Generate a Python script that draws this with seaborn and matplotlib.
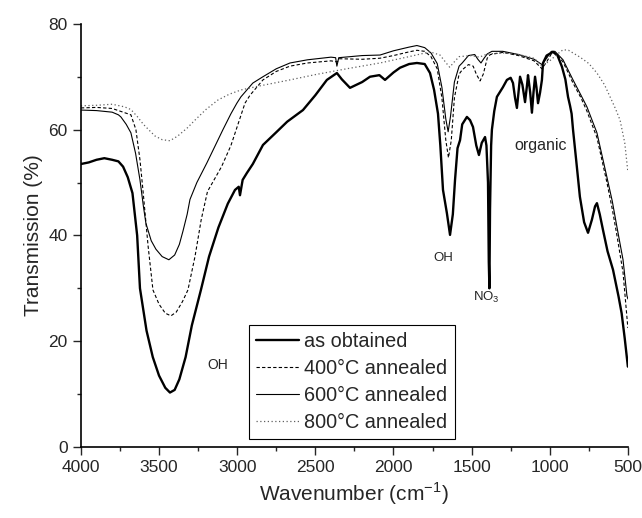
import matplotlib
matplotlib.use("Agg")
import matplotlib.pyplot as plt
from matplotlib.ticker import MultipleLocator
import seaborn as sns
import pandas as pd

# as obtained
wn_asobt = [4000, 3950, 3900, 3850, 3800, 3760, 3730, 3700, 3670, 3640, 3622, 3580,
            3540, 3500, 3460, 3430, 3400, 3370, 3330, 3290, 3232, 3180, 3120, 3060,
            3014, 2990, 2982, 2965, 2938, 2900, 2835, 2750, 2680, 2579, 2500, 2426,
            2362, 2330, 2278, 2200, 2150, 2090, 2054, 2000, 1958, 1900, 1850, 1800,
            1766, 1740, 1715, 1700, 1683, 1658, 1638, 1620, 1606, 1590, 1574, 1560,
            1530, 1510, 1491, 1470, 1453, 1435, 1414, 1405, 1395, 1390, 1386, 1382,
            1375, 1370, 1355, 1338, 1300, 1274, 1250, 1235, 1222, 1210, 1200, 1190,
            1175, 1158, 1145, 1139, 1125, 1114, 1104, 1094, 1085, 1075, 1062, 1050,
            1043, 1020, 979, 950, 922, 900, 883, 870, 860, 851, 830, 807, 780, 755,
            730, 710, 698, 680, 659, 630, 595, 560, 540, 520, 500]
tr_asobt = [53.5, 53.8, 54.3, 54.6, 54.3, 54.0, 53.0, 51.0, 48.0, 40.0, 30.0, 22.0,
            17.0, 13.5, 11.2, 10.3, 10.8, 12.8, 17.0, 23.0, 29.7, 36.0, 41.5, 46.0,
            48.6, 49.2, 47.6, 50.5, 51.8, 53.5, 57.1, 59.5, 61.5, 63.7, 66.5, 69.4,
            70.7, 69.5, 67.9, 69.0, 70.0, 70.3, 69.4, 70.8, 71.7, 72.4, 72.6, 72.4,
            70.7, 67.5, 63.0, 57.0, 48.6, 44.2, 40.1, 44.0, 50.5, 56.5, 58.0, 61.0,
            62.4, 61.8, 60.5, 57.0, 55.2, 57.5, 58.6, 57.0, 50.0, 35.0, 30.0, 45.0,
            57.0, 60.0, 63.5, 66.2, 68.0, 69.4, 69.8, 68.8, 66.0, 64.1, 67.0, 70.0,
            68.5, 65.2, 68.5, 70.3, 67.0, 63.2, 67.0, 70.0, 68.0, 65.0, 67.0, 69.4,
            72.6, 74.0, 74.7, 74.0, 71.9, 69.5, 66.2, 64.5, 63.0, 60.0, 54.0, 47.3,
            42.5, 40.5, 43.0, 45.5, 46.1, 44.0, 41.0, 37.0, 33.5, 28.5, 25.3, 20.5,
            15.2]

# 400 C annealed
wn_400 = [4000, 3900, 3800, 3760, 3720, 3680, 3648, 3622, 3603, 3570, 3539, 3500,
          3460, 3424, 3390, 3350, 3315, 3270, 3230, 3190, 3100, 3040, 2950, 2918,
          2835, 2750, 2662, 2550, 2400, 2360, 2345, 2200, 2086, 2000, 1900, 1850,
          1800, 1760, 1720, 1690, 1665, 1648, 1630, 1610, 1580, 1560, 1520, 1490,
          1470, 1446, 1425, 1400, 1380, 1300, 1200, 1100, 1050, 1020, 990, 975,
          950, 915, 851, 800, 762, 698, 634, 600, 570, 531, 500]
tr_400 = [64.1, 64.2, 64.0, 63.6, 63.2, 62.8, 60.0, 54.3, 48.6, 38.0, 29.7, 27.0,
          25.3, 24.8, 25.5, 27.5, 29.7, 36.0, 43.0, 48.3, 53.0, 57.0, 65.0, 66.5,
          69.4, 71.0, 72.0, 72.6, 73.0, 72.8, 73.4, 73.3, 73.5, 74.0, 74.7, 75.0,
          74.8, 73.8, 71.5, 66.0, 58.0, 54.7, 58.0, 66.0, 70.5, 71.3, 72.3, 72.0,
          70.5, 69.2, 70.5, 73.5, 74.2, 74.6, 74.0, 73.0, 71.5, 72.8, 74.3, 74.6,
          74.0, 72.8, 68.8, 66.0, 63.5, 58.5, 50.0, 45.0, 40.0, 33.0, 22.5]

# 600 C annealed
wn_600 = [4000, 3900, 3800, 3760, 3744, 3710, 3680, 3650, 3622, 3600, 3584, 3550,
          3520, 3480, 3437, 3400, 3370, 3347, 3320, 3302, 3258, 3194, 3140, 3091,
          3040, 3002, 2976, 2900, 2835, 2750, 2662, 2550, 2400, 2370, 2362, 2350,
          2200, 2086, 2000, 1900, 1850, 1800, 1760, 1720, 1690, 1665, 1650, 1635,
          1610, 1580, 1560, 1520, 1480, 1460, 1440, 1420, 1400, 1370, 1300, 1200,
          1100, 1050, 1020, 990, 967, 915, 851, 800, 762, 698, 634, 600, 570, 531,
          506, 500]
tr_600 = [63.7, 63.6, 63.3, 62.8, 62.4, 61.0, 59.4, 55.5, 50.5, 45.5, 42.3, 39.0,
          37.4, 36.0, 35.4, 36.3, 38.3, 40.8, 44.0, 46.8, 50.0, 53.7, 57.0, 60.0,
          63.0, 65.0, 66.2, 68.8, 70.0, 71.5, 72.6, 73.2, 73.7, 73.6, 72.0, 73.6,
          74.0, 74.1, 74.9, 75.6, 75.9, 75.5, 74.5, 72.5, 68.0, 62.0, 59.6, 62.5,
          69.0, 72.0, 72.6, 74.0, 74.2, 73.3, 72.6, 73.5, 74.3, 74.8, 74.8, 74.2,
          73.3, 72.3, 73.5, 74.8, 74.8, 73.2, 69.4, 66.5, 64.3, 59.4, 51.0, 46.5,
          41.6, 35.4, 28.6, 28.0]

# 800 C annealed
wn_800 = [4000, 3900, 3800, 3720, 3680, 3640, 3600, 3560, 3526, 3480, 3430, 3380,
          3320, 3270, 3200, 3123, 3050, 2976, 2850, 2662, 2500, 2300, 2086, 1900,
          1766, 1702, 1660, 1640, 1620, 1580, 1500, 1450, 1400, 1300, 1200, 1100,
          1050, 1000, 950, 915, 880, 806, 750, 698, 650, 614, 580, 550, 520, 500]
tr_800 = [64.5, 64.6, 64.8, 64.3, 63.8, 62.5, 61.0, 59.8, 58.8, 58.1, 57.9, 58.8,
          60.3, 61.8, 63.8, 65.6, 66.7, 67.5, 68.3, 69.4, 70.4, 71.5, 72.6, 73.8,
          74.7, 74.1, 72.5, 71.8, 72.5, 73.8, 74.0, 73.7, 74.3, 74.5, 74.2, 73.5,
          72.0, 73.0, 74.3, 75.1, 75.0, 73.7, 72.5, 70.7, 68.5, 66.2, 64.0, 61.8,
          57.5, 52.0]

labels = ["as obtained", "400°C annealed", "600°C annealed", "800°C annealed"]

sns.set_style("ticks")
plt.rcParams['font.family'] = ['Liberation Sans', 'DejaVu Sans']
plt.rcParams['mathtext.fontset'] = 'custom'
plt.rcParams['mathtext.rm'] = 'Liberation Sans'

fig = plt.figure(figsize=(6.42, 5.18), dpi=100)
ax = fig.add_axes([0.126, 0.137, 0.852, 0.817])

styles = [
    (wn_asobt, tr_asobt, dict(lw=1.7, ls='-', color='black')),
    (wn_400, tr_400, dict(lw=0.8, ls=(0, (3, 2)), color='black')),
    (wn_600, tr_600, dict(lw=0.8, ls='-', color='black')),
    (wn_800, tr_800, dict(lw=0.9, ls=(0, (1, 2)), color='#606060')),
]
for (wn, tr, st), lab in zip(styles, labels):
    df = pd.DataFrame({'wn': wn, 'tr': tr})
    sns.lineplot(data=df, x='wn', y='tr', ax=ax, label=lab, sort=False,
                 estimator=None, linewidth=st['lw'], color=st['color'],
                 linestyle=st['ls'])

ax.set_xlim(4000, 500)
ax.set_ylim(0, 80)
ax.xaxis.set_major_locator(MultipleLocator(500))
ax.xaxis.set_minor_locator(MultipleLocator(250))
ax.yaxis.set_major_locator(MultipleLocator(20))
ax.yaxis.set_minor_locator(MultipleLocator(10))
ax.tick_params(which='major', direction='out', length=6, width=1, labelsize=12.5)
ax.tick_params(which='minor', direction='out', length=3, width=1)
sns.despine(ax=ax)
for s in ['left', 'bottom']:
    ax.spines[s].set_linewidth(1.2)
    ax.spines[s].set_color('black')

ax.set_xlabel("Wavenumber (cm$^{-1}$)", fontsize=15)
ax.set_ylabel("Transmission (%)", fontsize=15)

ax.text(3125, 15.5, "OH", fontsize=10, ha='center', va='center')
ax.text(1680, 35.7, "OH", fontsize=9.5, ha='center', va='center')
ax.text(1405, 28.2, "NO$_3$", fontsize=9.5, ha='center', va='center')
ax.text(1060, 57.0, "organic", fontsize=11.5, ha='center', va='center')

leg = ax.legend(loc='lower left', bbox_to_anchor=(0.307, 0.02), fontsize=14.3,
                frameon=True, fancybox=False, edgecolor='black', framealpha=1,
                handlelength=2.2, labelspacing=0.4, borderpad=0.35,
                handletextpad=0.25, borderaxespad=0)
leg.get_frame().set_linewidth(0.8)

fig.savefig("out.png", dpi=100)
